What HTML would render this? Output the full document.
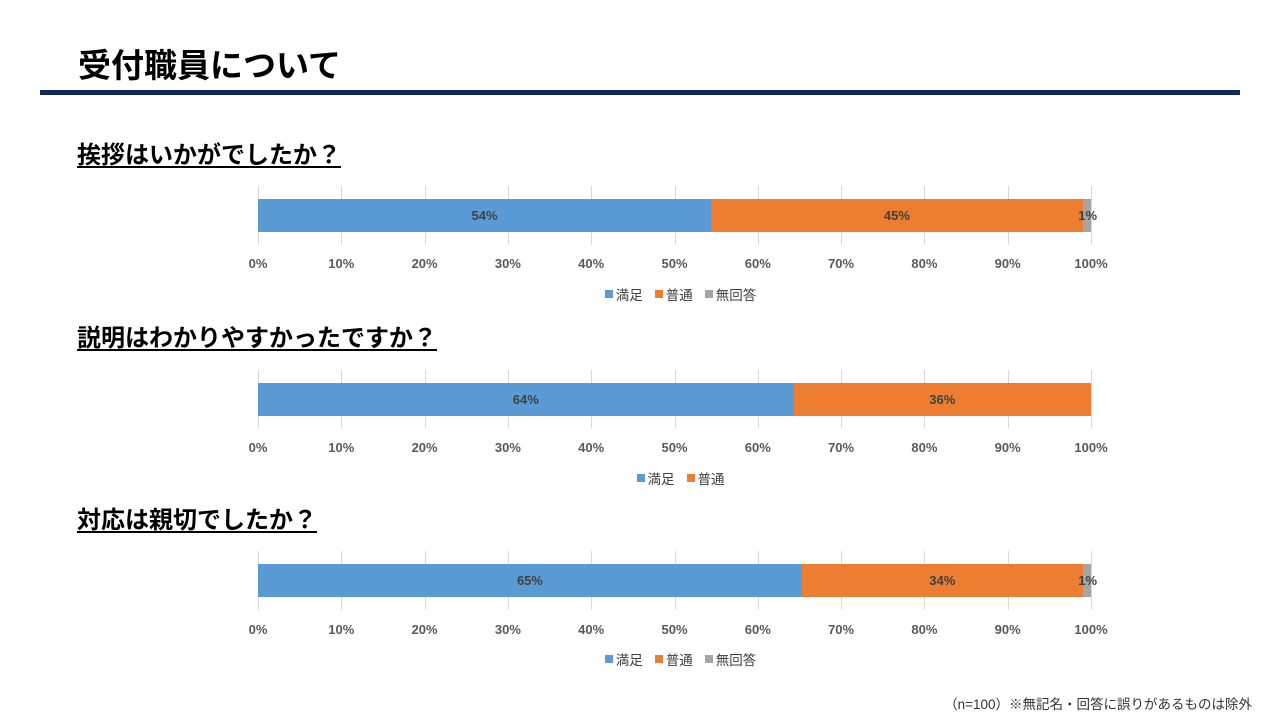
<!DOCTYPE html>
<html><head><meta charset="utf-8"><style>
body{margin:0;width:1280px;height:720px;background:#fff;position:relative;overflow:hidden;font-family:"Liberation Sans","Noto Sans CJK JP",sans-serif}
.a{position:absolute}
.title{left:78px;top:44px;font-size:33px;font-weight:bold;color:#000;line-height:44px}
.rule{left:40px;top:90px;width:1200px;height:5px;background:#0e2a5a}
.q{left:77px;font-size:24px;font-weight:bold;color:#000;line-height:30px;text-decoration:underline;text-underline-offset:3px;text-decoration-thickness:2px}
.grid{width:1px;background:#d9d9d9}
.tick{font-size:13px;font-weight:bold;color:#595959;width:60px;text-align:center}
.lbl{font-size:13px;font-weight:bold;color:#404040;text-align:center;line-height:33px;height:33px}
.leg{font-size:13.5px;color:#404040;display:flex;gap:12px;align-items:center}
.leg span{display:inline-flex;align-items:center}
.leg i{display:inline-block;width:8px;height:8px;margin-right:3px}
.note{right:28px;top:693px;font-size:13.5px;color:#333}
</style></head><body>
<div class="a title">受付職員について</div>
<div class="a rule"></div>
<div class="a q" style="top:141px">挨拶はいかがでしたか？</div>
<div class="a q" style="top:324px">説明はわかりやすかったですか？</div>
<div class="a q" style="top:506px">対応は親切でしたか？</div>
<div id="c"></div>
<div class="a note">（n=100）※無記名・回答に誤りがあるものは除外</div>
<script>
var charts=[{y:199,g0:186,g1:245,tk:256,lg:284,v:[54.4,44.6,1],l:['54%','45%','1%'],leg:3},
{y:383,g0:370,g1:428,tk:440,lg:468,v:[64.3,35.7],l:['64%','36%'],leg:2},
{y:564,g0:551,g1:610,tk:622,lg:649,v:[65.3,33.7,1],l:['65%','34%','1%'],leg:3}];
var cols=['#5b9bd5','#ed7d31','#a5a5a5'],names=['満足','普通','無回答'];
var h='',X0=258,W=833;
charts.forEach(function(c){
for(var i=0;i<=10;i++){var x=X0+W*i/10;h+='<div class="a grid" style="left:'+x+'px;top:'+c.g0+'px;height:'+(c.g1-c.g0)+'px"></div>';
h+='<div class="a tick" style="left:'+(x-30)+'px;top:'+c.tk+'px">'+(i*10)+'%</div>';}
var x=X0;c.v.forEach(function(v,j){var w=W*v/100;h+='<div class="a" style="left:'+x+'px;top:'+c.y+'px;width:'+w+'px;height:33px;background:'+cols[j]+'"></div>';
if(j<2)h+='<div class="a lbl" style="left:'+x+'px;top:'+c.y+'px;width:'+w+'px">'+c.l[j]+'</div>';else h+='<div class="a lbl" style="left:'+(x-20)+'px;top:'+c.y+'px;width:50px">'+c.l[j]+'</div>';x+=w;});
var lg='';for(var j=0;j<c.leg;j++)lg+='<span><i style="background:'+cols[j]+'"></i>'+names[j]+'</span>';
h+='<div class="a leg" style="left:0;width:1361px;justify-content:center;top:'+c.lg+'px">'+lg+'</div>';
});
document.getElementById('c').innerHTML=h;
</script>
</body></html>
